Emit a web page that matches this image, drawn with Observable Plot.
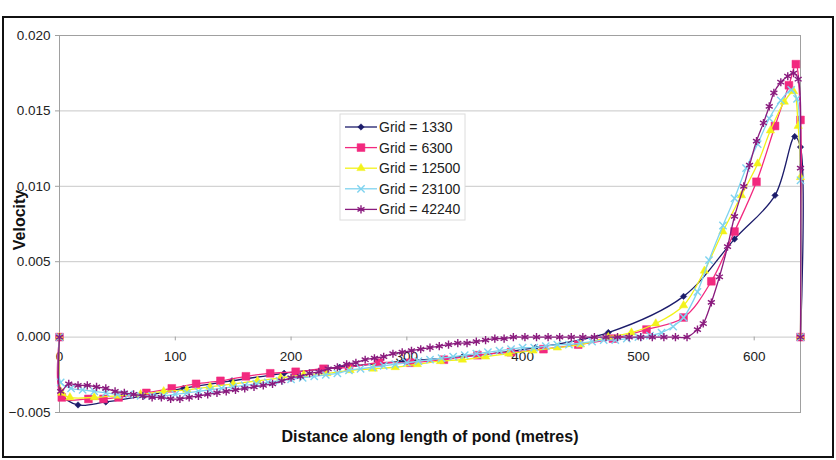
<!DOCTYPE html>
<html>
<head>
<meta charset="utf-8">
<script src="https://cdn.jsdelivr.net/npm/d3@7"></script>
<script src="https://cdn.jsdelivr.net/npm/@observablehq/plot@0.6"></script>
<style>
  html, body { margin: 0; padding: 0; background: #fff; }
  #chart { position: relative; width: 836px; height: 460px; }
</style>
</head>
<body>
<div id="chart"></div>
<script>
// ---------- data ----------
const seriesNames = ["Grid = 1330", "Grid = 6300", "Grid = 12500", "Grid = 23100", "Grid = 42240"];
const seriesColors = ["#1c1c6b", "#f2297f", "#f2f21a", "#7fd3ef", "#8a1b7e"];
const seriesSymbols = ["diamond2", "square", "triangle", "times", "asterisk"];

const x1330 = [0, 2, 16, 40, 73, 107, 149, 194, 242, 298, 348, 411, 474, 539, 583, 618, 635, 640, 640];
const v1330 = [0, -0.0038, -0.0045, -0.0043, -0.0039, -0.0034, -0.0029, -0.0024, -0.0020, -0.0016, -0.0013, -0.0007, 0.0003, 0.0027, 0.0065, 0.0094, 0.0133, 0.0126, 0];

const x6300 = [0, 2, 25, 38, 51, 75, 97, 118, 139, 161, 182, 204, 228, 250, 276, 303, 332, 361, 390, 418, 448, 478, 507, 539, 563, 583, 602, 618, 630, 636, 640, 640];
const v6300 = [0, -0.0040, -0.0041, -0.0041, -0.0040, -0.0037, -0.0034, -0.0031, -0.0029, -0.0026, -0.0024, -0.0023, -0.0021, -0.0020, -0.0017, -0.0017, -0.0015, -0.0012, -0.0010, -0.0008, -0.0005, -0.0001, 0.0005, 0.0013, 0.0037, 0.0070, 0.0103, 0.0140, 0.0167, 0.0181, 0.0144, 0];

const x12500 = [0, 2, 9, 30, 50, 70, 90, 110, 130, 150, 171, 191, 211, 231, 251, 271, 290, 309, 329, 348, 368, 388, 409, 430, 450, 474, 494, 515, 539, 557, 573, 589, 603, 614, 626, 634, 638, 640, 640];
const v12500 = [0, -0.0037, -0.0040, -0.0040, -0.0039, -0.0038, -0.0036, -0.0035, -0.0033, -0.0031, -0.0029, -0.0027, -0.0025, -0.0024, -0.0022, -0.0021, -0.0020, -0.0018, -0.0016, -0.0015, -0.0013, -0.0011, -0.0009, -0.0007, -0.0005, 0.0000, 0.0003, 0.0009, 0.0021, 0.0044, 0.0070, 0.0094, 0.0115, 0.0137, 0.0156, 0.0163, 0.0140, 0.0106, 0];

const x23100 = [0, 1, 10, 20, 30, 40, 50, 60, 70, 80, 90, 100, 110, 120, 130, 140, 150, 160, 170, 180, 190, 200, 210, 220, 230, 240, 250, 260, 270, 280, 290, 300, 310, 320, 330, 340, 350, 360, 370, 380, 390, 400, 410, 420, 430, 440, 450, 460, 470, 480, 490, 500, 510, 520, 530, 539, 551, 561, 573, 583, 593, 603, 613, 623, 632, 637, 640, 640];
const v23100 = [0, -0.0030, -0.0034, -0.0035, -0.0036, -0.0037, -0.0038, -0.0038, -0.0039, -0.0039, -0.0039, -0.0038, -0.0037, -0.0036, -0.0035, -0.0034, -0.0033, -0.0032, -0.0031, -0.0030, -0.0029, -0.0028, -0.0027, -0.0026, -0.0025, -0.0024, -0.0022, -0.0021, -0.0020, -0.0019, -0.0018, -0.0017, -0.0016, -0.0015, -0.0014, -0.0013, -0.0012, -0.0011, -0.0010, -0.0009, -0.0008, -0.0007, -0.0007, -0.0006, -0.0005, -0.0005, -0.0004, -0.0003, -0.0002, -0.0002, -0.0001, 0.0000, 0.0001, 0.0003, 0.0007, 0.0013, 0.0030, 0.0051, 0.0074, 0.0092, 0.0112, 0.0128, 0.0145, 0.0157, 0.0164, 0.0158, 0.0104, 0];

const x42240 = [0, 1, 8, 16, 24, 32, 40, 48, 56, 64, 72, 80, 88, 96, 104, 112, 120, 128, 136, 144, 152, 160, 168, 176, 184, 192, 200, 208, 216, 224, 232, 240, 248, 256, 264, 272, 280, 288, 296, 304, 312, 320, 328, 336, 344, 352, 360, 368, 376, 384, 392, 402, 412, 422, 432, 442, 452, 462, 472, 482, 492, 502, 512, 522, 532, 542, 551, 556, 563, 570, 577, 583, 591, 596, 602, 608, 613, 617, 623, 629, 634, 638, 640, 640];
const v42240 = [0, -0.0036, -0.0031, -0.0032, -0.0032, -0.0033, -0.0034, -0.0036, -0.0037, -0.0038, -0.0039, -0.0040, -0.0040, -0.0041, -0.0041, -0.0040, -0.0039, -0.0038, -0.0037, -0.0036, -0.0035, -0.0034, -0.0033, -0.0032, -0.0031, -0.0029, -0.0027, -0.0026, -0.0024, -0.0023, -0.0021, -0.0020, -0.0018, -0.0017, -0.0015, -0.0014, -0.0013, -0.0011, -0.0010, -0.0009, -0.0008, -0.0007, -0.0006, -0.0005, -0.0004, -0.0004, -0.0003, -0.0002, -0.0001, -0.0001, 0.0000, 0.0000, 0.0000, 0.0000, 0.0000, 0.0000, 0.0000, 0.0000, 0.0000, 0.0000, 0.0000, 0.0000, 0.0000, 0.0000, 0.0000, 0.0000, 0.0005, 0.0009, 0.0023, 0.0040, 0.0060, 0.0080, 0.0100, 0.0114, 0.0130, 0.0142, 0.0153, 0.0162, 0.0169, 0.0173, 0.0175, 0.0171, 0.0112, 0];

const yTicks = [-0.005, 0.000, 0.005, 0.010, 0.015, 0.020];
const xTicks = [0, 100, 200, 300, 400, 500, 600];
const xTitle = "Distance along length of pond (metres)";
const yTitle = "Velocity";

// ---------- build tables ----------
const xs = [x1330, x6300, x12500, x23100, x42240];
const vs = [v1330, v6300, v12500, v23100, v42240];
const tables = seriesNames.map((name, s) =>
  xs[s].map((x, i) => ({series: name, x, v: vs[s][i]}))
);

const FONT = "'Liberation Sans', Arial, Helvetica, sans-serif";
const dotR = [2.9, 4.4, 3.1, 3.4, 3.8];

const seriesMarks = tables.flatMap((rows, s) => {
  const sym = seriesSymbols[s];
  const filled = sym === "diamond2" || sym === "square" || sym === "triangle";
  return [
    Plot.line(rows, {x: "x", y: "v", stroke: seriesColors[s], strokeWidth: 1.3, curve: "catmull-rom"}),
    Plot.dot(rows, {
      x: "x", y: "v", symbol: () => sym, r: dotR[s],
      fill: filled ? seriesColors[s] : "none",
      stroke: seriesColors[s], strokeWidth: filled ? 0.5 : 1.4
    })
  ];
});

const plot = Plot.plot({
  width: 836,
  height: 460,
  marginLeft: 59,
  marginRight: 36,
  marginTop: 35,
  marginBottom: 48,
  style: {fontFamily: FONT, background: "white", overflow: "visible"},
  x: {domain: [0, 640], axis: null},
  y: {domain: [-0.005, 0.02], axis: null},
  symbol: {type: "identity"},
  marks: [
    Plot.gridY(yTicks, {stroke: "#c8c8c8", strokeOpacity: 1}),
    Plot.frame({stroke: "#a0a0a0"}),
    Plot.axisY(yTicks, {
      tickFormat: d3.format(".3f"), tickSize: 4, tickPadding: 5,
      fontSize: 13.5, stroke: "#a0a0a0", fill: "#222", label: null
    }),
    Plot.ruleX(xTicks, {x: d => d, y1: 0, y2: -0.00025, stroke: "#a0a0a0"}),
    Plot.text(xTicks, {x: d => d, y: 0, text: d => String(d), dy: 20, fontSize: 13.5, fill: "#222"}),
    ...seriesMarks
  ]
});

document.getElementById("chart").appendChild(plot);

// ---------- decorations: outer frame, titles, legend ----------
const svg = d3.select(plot);

svg.insert("rect", ":first-child")
  .attr("x", 3).attr("y", 17).attr("width", 830).attr("height", 440)
  .attr("fill", "white").attr("stroke", "none");
svg.append("rect")
  .attr("x", 3).attr("y", 17).attr("width", 830).attr("height", 440)
  .attr("fill", "none").attr("stroke", "#111").attr("stroke-width", 2);

svg.append("text")
  .attr("x", 430).attr("y", 442)
  .attr("text-anchor", "middle")
  .style("font-family", FONT).style("font-weight", "bold").style("font-size", "16px")
  .attr("fill", "#111")
  .text(xTitle);

svg.append("text")
  .attr("transform", "translate(25,220) rotate(-90)")
  .attr("text-anchor", "middle")
  .style("font-family", FONT).style("font-weight", "bold").style("font-size", "16px")
  .attr("fill", "#111")
  .text(yTitle);

const legend = svg.append("g").attr("text-anchor", "start");
legend.append("rect")
  .attr("x", 340).attr("y", 114).attr("width", 125).attr("height", 106)
  .attr("fill", "white").attr("stroke", "#dcdcdc").attr("stroke-width", 1);

const symMap = {
  diamond2: d3.symbolDiamond2, square: d3.symbolSquare, triangle: d3.symbolTriangle,
  times: d3.symbolTimes, asterisk: d3.symbolAsterisk
};
seriesNames.forEach((name, s) => {
  const cy = 127 + s * 20.6;
  const sym = seriesSymbols[s];
  const filled = sym === "diamond2" || sym === "square" || sym === "triangle";
  legend.append("line")
    .attr("x1", 345).attr("x2", 377).attr("y1", cy).attr("y2", cy)
    .attr("stroke", seriesColors[s]).attr("stroke-width", 1.3);
  legend.append("path")
    .attr("transform", `translate(361,${cy})`)
    .attr("d", d3.symbol(symMap[sym], Math.PI * dotR[s] * dotR[s])())
    .attr("fill", filled ? seriesColors[s] : "none")
    .attr("stroke", seriesColors[s]).attr("stroke-width", filled ? 0.5 : 1.4);
  legend.append("text")
    .attr("x", 379).attr("y", cy).attr("dy", "0.35em")
    .attr("text-anchor", "start")
    .style("font-family", FONT).style("font-size", "14px")
    .attr("fill", "#222")
    .text(name);
});
</script>
</body>
</html>
